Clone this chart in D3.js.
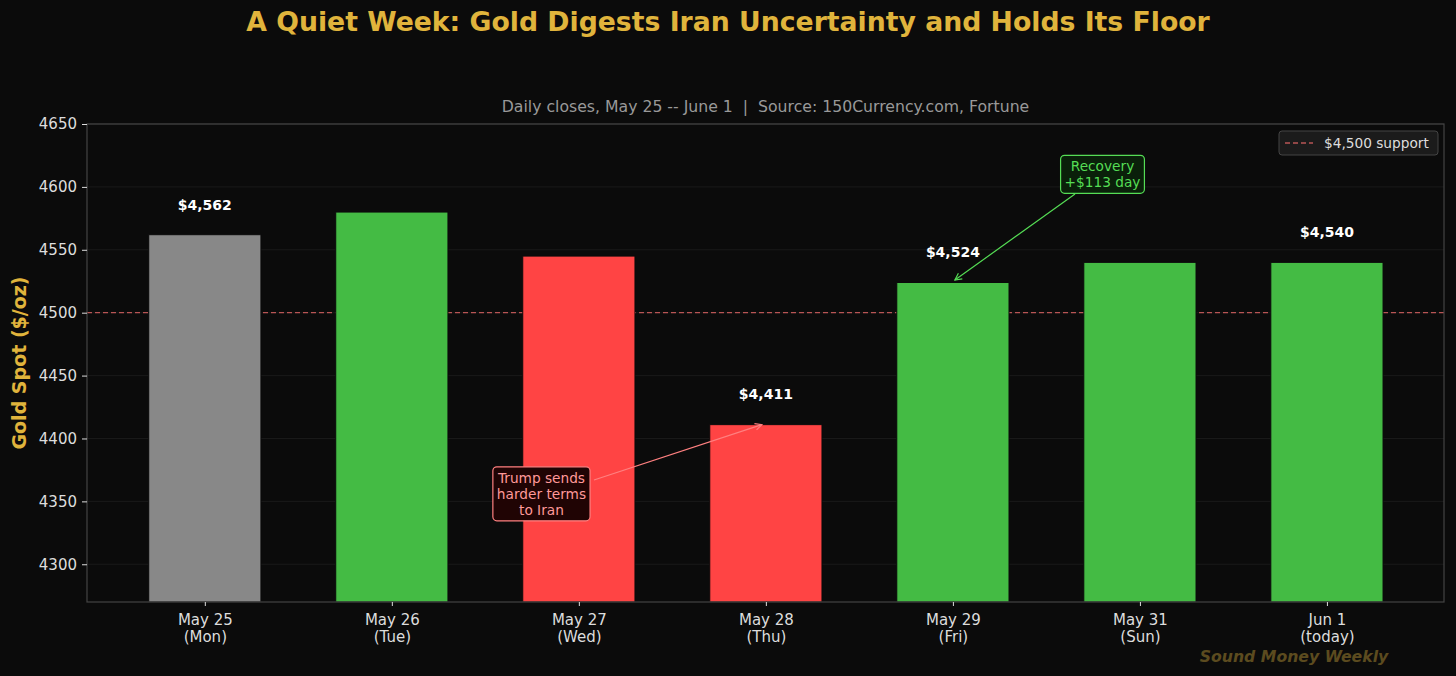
<!DOCTYPE html>
<html>
<head>
<meta charset="utf-8">
<script src="https://cdn.jsdelivr.net/npm/d3@7"></script>
<style>
  body { margin: 0; background: #0b0b0b; overflow: hidden; }
  svg { display: block; font-family: "DejaVu Sans", sans-serif; }
</style>
</head>
<body>
<script>
//Data
var days = ["May 25", "May 26", "May 27", "May 28", "May 29", "May 31", "Jun 1"];
var dayNotes = ["(Mon)", "(Tue)", "(Wed)", "(Thu)", "(Fri)", "(Sun)", "(today)"];
var closes = [4562, 4580, 4545, 4411, 4524, 4540, 4540];
var barKinds = ["base", "up", "down", "down", "up", "up", "up"];
var labelled = ["May 25", "May 28", "May 29", "Jun 1"];
var yTicks = [4300, 4350, 4400, 4450, 4500, 4550, 4600, 4650];
var support = 4500;

//Parameters
var w = 1456, h = 676;
var m = {left: 87, top: 124, right: 1444, bottom: 602};
var bg = "#0b0b0b";
var gold = "#e0b43c";
var kindColor = {base: "#888888", up: "#44bb44", down: "#ff4444"};

var svg = d3.select("body").append("svg")
    .attr("width", w)
    .attr("height", h);

svg.append("rect").attr("width", w).attr("height", h).attr("fill", bg);

//Scales
var x = d3.scaleLinear().domain([-0.63, days.length - 1 + 0.626]).range([m.left, m.right]);
var y = d3.scaleLinear().domain([4270, 4650]).range([m.bottom, m.top]);
var barW = (x(1) - x(0)) * 0.6;

//Grid
svg.append("g")
    .selectAll("line")
    .data(yTicks)
    .join("line")
    .attr("x1", m.left).attr("x2", m.right)
    .attr("y1", d => y(d)).attr("y2", d => y(d))
    .attr("stroke", "#1a1a1a")
    .attr("stroke-width", 1);

//Support line (behind bars)
svg.append("line")
    .attr("x1", m.left).attr("x2", m.right)
    .attr("y1", y(support)).attr("y2", y(support))
    .attr("stroke", "#b85555")
    .attr("stroke-width", 1.3)
    .attr("stroke-dasharray", "5,3");

//Bars
svg.append("g")
    .selectAll("rect")
    .data(closes)
    .join("rect")
    .attr("x", (d, i) => x(i) - barW / 2)
    .attr("width", barW)
    .attr("y", d => y(d))
    .attr("height", d => m.bottom - y(d))
    .attr("fill", (d, i) => kindColor[barKinds[i]])
    .attr("stroke", bg)
    .attr("stroke-width", 1);

//Value labels
svg.append("g")
    .selectAll("text")
    .data(closes.map((d, i) => ({v: d, i: i})).filter(d => labelled.indexOf(days[d.i]) >= 0))
    .join("text")
    .attr("x", d => x(d.i))
    .attr("y", d => y(d.v + 20))
    .attr("text-anchor", "middle")
    .attr("fill", "#ffffff")
    .attr("font-size", 14)
    .attr("font-weight", "bold")
    .text(d => "$" + d3.format(",")(d.v));

//Spines
svg.append("rect")
    .attr("x", m.left).attr("y", m.top)
    .attr("width", m.right - m.left).attr("height", m.bottom - m.top)
    .attr("fill", "none")
    .attr("stroke", "#444444")
    .attr("stroke-width", 1.2);

//Y axis
var yAxis = svg.append("g")
    .attr("transform", "translate(" + m.left + ",0)")
    .call(d3.axisLeft(y).tickValues(yTicks).tickSize(5).tickPadding(5).tickFormat(d3.format("d")));
yAxis.select(".domain").remove();
yAxis.selectAll("line").attr("stroke", "#dddddd");
yAxis.selectAll("text").attr("fill", "#dddddd").attr("font-size", 15).attr("font-family", "DejaVu Sans");

//X axis
var xAxis = svg.append("g")
    .attr("transform", "translate(0," + m.bottom + ")")
    .call(d3.axisBottom(x).tickValues(d3.range(days.length)).tickSize(4).tickFormat(""));
xAxis.select(".domain").remove();
xAxis.selectAll("line").attr("stroke", "#dddddd");
xAxis.selectAll(".tick").each(function (d) {
    var t = d3.select(this).append("text")
        .attr("fill", "#dddddd")
        .attr("font-size", 15)
        .attr("font-family", "DejaVu Sans")
        .attr("text-anchor", "middle");
    t.append("tspan").attr("x", 0).attr("y", 23).text(days[d]);
    t.append("tspan").attr("x", 0).attr("y", 40).text(dayNotes[d]);
});

//Y label
svg.append("text")
    .attr("transform", "translate(26," + ((m.top + m.bottom) / 2) + ") rotate(-90)")
    .attr("text-anchor", "middle")
    .attr("fill", gold)
    .attr("font-size", 19)
    .attr("font-weight", "bold")
    .text("Gold Spot ($/oz)");

//Titles
svg.append("text")
    .attr("x", w / 2).attr("y", 31)
    .attr("text-anchor", "middle")
    .attr("fill", gold)
    .attr("font-size", 26.7)
    .attr("font-weight", "bold")
    .text("A Quiet Week: Gold Digests Iran Uncertainty and Holds Its Floor");

svg.append("text")
    .attr("x", (m.left + m.right) / 2).attr("y", 112)
    .attr("text-anchor", "middle")
    .attr("fill", "#999999")
    .attr("font-size", 15.7)
    .style("white-space", "pre")
    .text("Daily closes, May 25 -- June 1  |  Source: 150Currency.com, Fortune");

//Arrow markers
var defs = svg.append("defs");
function marker(id, color) {
    defs.append("marker")
        .attr("id", id)
        .attr("viewBox", "0 0 10 10")
        .attr("refX", 9).attr("refY", 5)
        .attr("markerWidth", 7).attr("markerHeight", 7)
        .attr("orient", "auto")
        .append("path")
        .attr("d", "M1,1 L9,5 L1,9")
        .attr("fill", "none")
        .attr("stroke", color)
        .attr("stroke-width", 1.4);
}
marker("arrRed", "#ff8080");
marker("arrGreen", "#55dd55");

//Annotations
function annotate(lines, tx, ty, px, py, opt) {
    var cx = x(tx), cy = y(ty);
    var lh = 16;
    svg.append("line")
        .attr("x1", opt.sx).attr("y1", opt.sy)
        .attr("x2", x(px) + opt.dx).attr("y2", y(py))
        .attr("stroke", opt.edge)
        .attr("stroke-width", 1.2)
        .attr("marker-end", "url(#" + opt.marker + ")");
    var g = svg.append("g");
    var txt = g.append("text")
        .attr("text-anchor", "middle")
        .attr("fill", opt.text)
        .attr("font-size", 13.7);
    lines.forEach(function (l, k) {
        txt.append("tspan")
            .attr("x", cx)
            .attr("y", cy + (k - (lines.length - 1) / 2) * lh + 5)
            .text(l);
    });
    var bb = txt.node().getBBox();
    var pad = 4;
    g.insert("rect", "text")
        .attr("x", bb.x - pad).attr("y", bb.y - pad + 1)
        .attr("width", bb.width + 2 * pad).attr("height", bb.height + 2 * pad - 2)
        .attr("rx", 4)
        .attr("fill", opt.fill)
        .attr("stroke", opt.edge)
        .attr("stroke-width", 1.2);
}

annotate(["Trump sends", "harder terms", "to Iran"], 1.8, 4356, 3, 4411,
    {text: "#ff9999", fill: "#200404", edge: "#ff8080", marker: "arrRed", sx: 594, sy: 480, dx: -4});
annotate(["Recovery", "+$113 day"], 4.8, 4610, 4, 4526,
    {text: "#55dd55", fill: "#0a200a", edge: "#55dd55", marker: "arrGreen", sx: 1075, sy: 194, dx: 2});

//Legend
var lg = svg.append("g").attr("transform", "translate(1279,131)");
lg.append("rect")
    .attr("width", 159).attr("height", 24).attr("rx", 3)
    .attr("fill", "#1b1b1b").attr("stroke", "#444444");
lg.append("line")
    .attr("x1", 6).attr("x2", 34).attr("y1", 12).attr("y2", 12)
    .attr("stroke", "#b85555").attr("stroke-width", 1.3).attr("stroke-dasharray", "5,3");
lg.append("text")
    .attr("x", 45).attr("y", 17)
    .attr("fill", "#dddddd").attr("font-size", 13.7)
    .text("$4,500 support");

//Watermark
svg.append("text")
    .attr("x", 1294).attr("y", 662)
    .attr("text-anchor", "middle")
    .attr("fill", "#5c4b1f")
    .attr("font-size", 15.7)
    .attr("font-weight", "bold")
    .attr("font-style", "italic")
    .text("Sound Money Weekly");
</script>
</body>
</html>
